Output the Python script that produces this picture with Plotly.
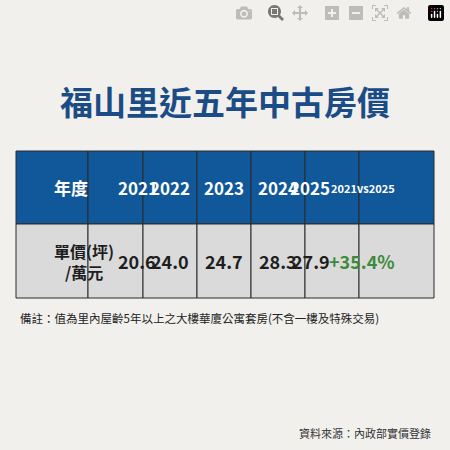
import plotly.graph_objects as go

headers = ["年度", "2021", "2022", "2023", "2024", "2025", "2021vs2025"]
row_label = "單價(坪)<br>/萬元"
values = ["20.6", "24.0", "24.7", "28.3", "27.9"]
change = "+35.4%"

F = "Noto Sans CJK TC"
W = 450
xs = [16, 88, 143, 197, 251, 305, 359, 434]
y_top, y_mid, y_bot = 151, 224, 298

def px(x): return x / W
def py(y): return 1 - y / W

fig = go.Figure()
body = [row_label] + values + [change]
for i in range(7):
    x0, x1 = xs[i], xs[i+1]
    fig.add_shape(type="rect", xref="paper", yref="paper", x0=px(x0), x1=px(x1),
                  y0=py(y_mid), y1=py(y_top), fillcolor="#11589a",
                  line=dict(color="#2a2a2a", width=1))
    fig.add_shape(type="rect", xref="paper", yref="paper", x0=px(x0), x1=px(x1),
                  y0=py(y_bot), y1=py(y_mid), fillcolor="#dadada",
                  line=dict(color="#2a2a2a", width=1))
    cx = px((x0 + x1) / 2)
    fig.add_annotation(text=f"<b>{headers[i]}</b>", x=cx, y=py((y_top + y_mid) / 2),
                       xref="paper", yref="paper", showarrow=False, yanchor="middle",
                       font=dict(family=F, size=11 if i == 6 else 17, color="white"))
    fig.add_annotation(text=f"<b>{body[i]}</b>", x=cx, y=py((y_mid + y_bot) / 2),
                       xref="paper", yref="paper", showarrow=False, yanchor="middle",
                       font=dict(family=F, size=16 if i == 0 else 18,
                                 color="#3d8a3a" if i == 6 else "#1e1e1e"))

fig.add_annotation(text="<b>福山里近五年中古房價</b>", x=0.5, y=py(101), xref="paper", yref="paper",
                   showarrow=False, yanchor="middle", font=dict(family=F, size=33, color="#1b4c86"))
fig.add_annotation(text="備註：值為里內屋齡5年以上之大樓華廈公寓套房(不含一樓及特殊交易)",
                   x=px(18), y=py(318), xref="paper", yref="paper", xanchor="left", yanchor="middle",
                   showarrow=False, font=dict(family=F, size=11.5, color="#222"))
fig.add_annotation(text="資料來源：內政部實價登錄", x=px(433), y=py(433), xref="paper", yref="paper",
                   xanchor="right", yanchor="middle", showarrow=False,
                   font=dict(family=F, size=11, color="#333"))
fig.update_xaxes(visible=False)
fig.update_yaxes(visible=False)
fig.update_layout(width=450, height=450, margin=dict(l=0, r=0, t=0, b=0),
                  paper_bgcolor="#f1f0ed", plot_bgcolor="#f1f0ed", showlegend=False)
fig.write_html("out.html", post_script="document.body.style.margin='0';")
